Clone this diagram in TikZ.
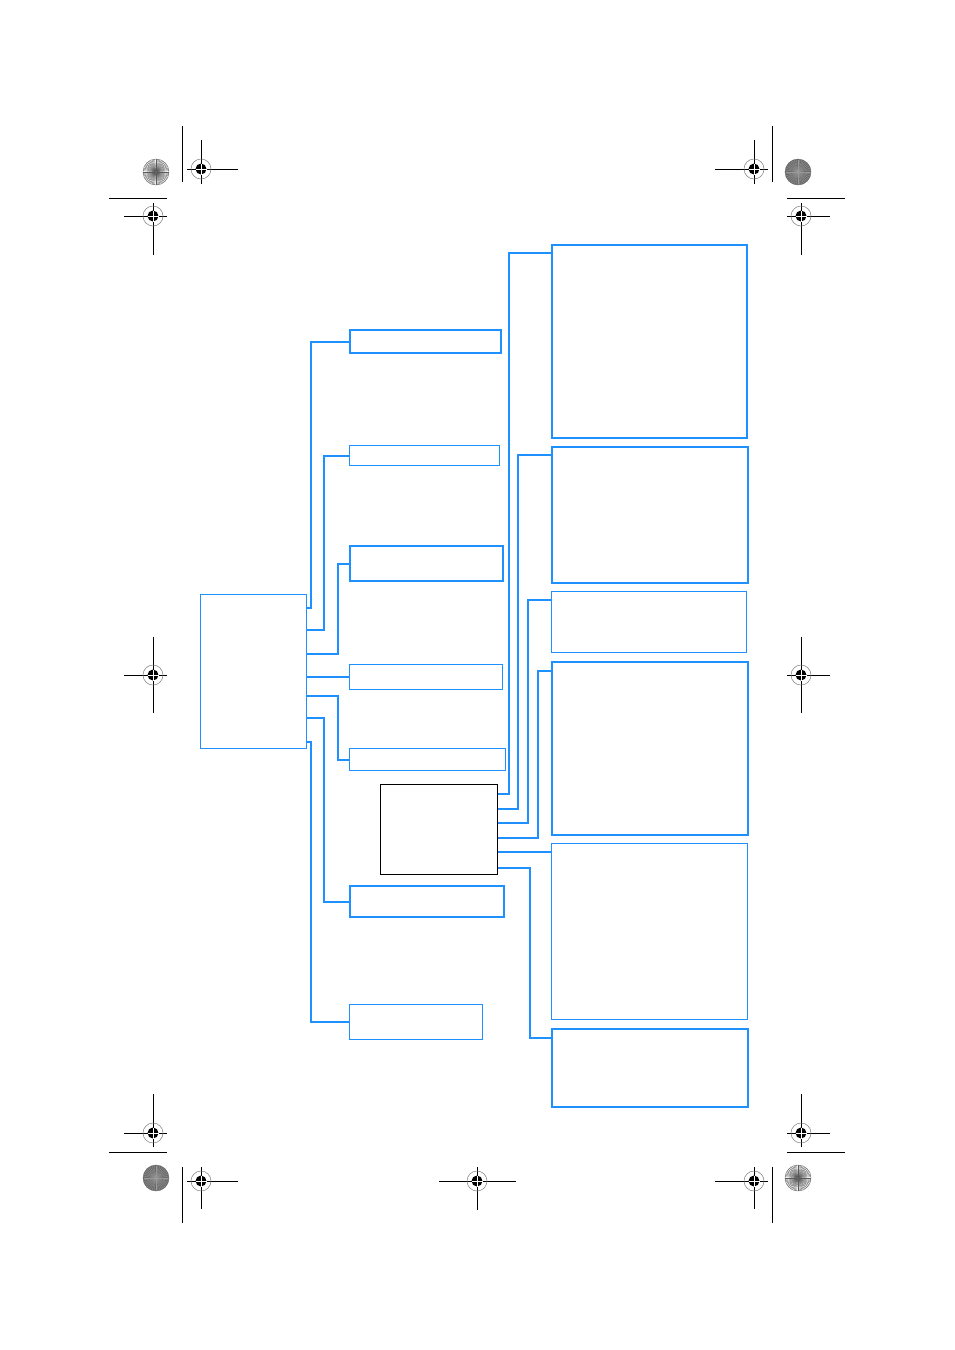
\documentclass[tikz,border=0pt]{standalone}
\definecolor{bl}{HTML}{1E90FF}
\tikzset{
  box/.style={draw=bl, line width=1.2pt, inner sep=0pt, anchor=north west, fill=white},
  boxthick/.style={box, line width=2pt},
  blk/.style={draw=black, line width=1.2pt, inner sep=0pt, anchor=north west, fill=white},
  conn/.style={draw=bl, line width=2pt},
  connthin/.style={draw=bl, line width=1.2pt},
  cropline/.style={draw=black, line width=0.9pt},
  regdisc/.pic={
    \draw[gray, line width=0.5pt] (0,0) circle (10);
    \fill[black] (0,0) circle (5.5);
    \draw[white, line width=0.7pt] (-5.5,0) -- (5.5,0) (0,-5.5) -- (0,5.5);
  },
  burstlight/.pic={
    \foreach \a in {0,6,...,354} \draw[black!65, line width=0.35pt] (0,0) -- (\a:13);
    \fill[black!60] (0,0) circle (1.5);
    \draw[black!55, line width=0.4pt] (0,0) circle (13);
  },
  burstdark/.pic={
    \fill[black!58] (0,0) circle (13);
    \foreach \a in {0,9,...,351} \draw[black!40, line width=0.3pt] (0,0) -- (\a:12.5);
    \draw[black!60, line width=0.4pt] (0,0) circle (13);
  }
}
\begin{document}
\begin{tikzpicture}[x=1pt, y=-1pt]
\path[use as bounding box, fill=white] (0,0) rectangle (954,1350);

% ---- blue tree ----
\node[box, minimum width=106pt, minimum height=154pt] (lb) at (200,594) {};
\node[boxthick, minimum width=151pt, minimum height=23pt] (b1) at (349,329) {};
\node[box, minimum width=150pt, minimum height=20pt] (b2) at (349,445) {};
\node[boxthick, minimum width=153pt, minimum height=35pt] (b3) at (349,545) {};
\node[box, minimum width=153pt, minimum height=25pt] (b4) at (349,664) {};
\node[box, minimum width=156pt, minimum height=22pt] (b5) at (349,748) {};
\node[boxthick, minimum width=154pt, minimum height=31pt] (b6) at (349,885) {};
\node[box, minimum width=133pt, minimum height=35pt] (b7) at (349,1004) {};

\node[blk, minimum width=117pt, minimum height=90pt] (bk) at (380,784) {};

\node[boxthick, minimum width=195pt, minimum height=193pt] (r1) at (551,244) {};
\node[boxthick, minimum width=196pt, minimum height=136pt] (r2) at (551,446) {};
\node[box, minimum width=195pt, minimum height=61pt] (r3) at (551,591) {};
\node[boxthick, minimum width=196pt, minimum height=173pt] (r4) at (551,661) {};
\node[box, minimum width=196pt, minimum height=176pt] (r5) at (551,843) {};
\node[boxthick, minimum width=196pt, minimum height=78pt] (r6) at (551,1028) {};

% connectors from left box
\draw[conn] ([yshift=-14pt]lb.north east) -| ([xshift=-38pt]b1.west) -- (b1.west);
\draw[conn] ([yshift=-36pt]lb.north east) -| ([xshift=-25pt]b2.west) -- (b2.west);
\draw[conn] ([yshift=-60pt]lb.north east) -| ([xshift=-11pt]b3.west) -- (b3.west);
\draw[conn] (b4.west) -- (b4.west -| lb.east);
\draw[conn] ([yshift=-102pt]lb.north east) -| ([xshift=-11pt]b5.west) -- (b5.west);
\draw[conn] ([yshift=-124pt]lb.north east) -| ([xshift=-25pt]b6.west) -- (b6.west);
\draw[conn] ([yshift=-148pt]lb.north east) -| ([xshift=-38pt]b7.west) -- (b7.west);

% connectors from black box
\draw[conn] ([yshift=-10pt]bk.north east) -| ([xshift=-42pt,yshift=-9pt]r1.north west) -- ([yshift=-9pt]r1.north west);
\draw[conn] ([yshift=-25pt]bk.north east) -| ([xshift=-33pt,yshift=-9pt]r2.north west) -- ([yshift=-9pt]r2.north west);
\draw[connthin] ([yshift=-39pt]bk.north east) -| ([xshift=-23pt,yshift=-9pt]r3.north west) -- ([yshift=-9pt]r3.north west);
\draw[connthin] ([yshift=-54pt]bk.north east) -| ([xshift=-13pt,yshift=-10pt]r4.north west) -- ([yshift=-10pt]r4.north west);
\draw[conn] ([yshift=-9pt]r5.north west) -- ([yshift=-9pt]r5.north west -| bk.east);
\draw[conn] ([yshift=-84pt]bk.north east) -| ([xshift=-21pt,yshift=-10pt]r6.north west) -- ([yshift=-10pt]r6.north west);

% ---- printer's marks ----
% crop lines
\draw[cropline] (182,126) -- (182,182);
\draw[cropline] (772,126) -- (772,182);
\draw[cropline] (109,198) -- (167,198);
\draw[cropline] (787,198) -- (845,198);
\draw[cropline] (109,1152) -- (167,1152);
\draw[cropline] (787,1152) -- (845,1152);
\draw[cropline] (182,1167) -- (182,1223);
\draw[cropline] (772,1167) -- (772,1223);

% registration targets
\draw[cropline] (187,169) -- (238,169) (201,140) -- (201,184);
\pic at (201,169) {regdisc};
\draw[cropline] (124,216) -- (167,216) (153,203) -- (153,255);
\pic at (153,216) {regdisc};
\draw[cropline] (715,169) -- (768,169) (754,140) -- (754,184);
\pic at (754,169) {regdisc};
\draw[cropline] (787,216) -- (830,216) (801,203) -- (801,255);
\pic at (801,216) {regdisc};
\draw[cropline] (124,675) -- (167,675) (153,637) -- (153,713);
\pic at (153,675) {regdisc};
\draw[cropline] (787,675) -- (830,675) (801,637) -- (801,713);
\pic at (801,675) {regdisc};
\draw[cropline] (124,1133) -- (167,1133) (153,1094) -- (153,1147);
\pic at (153,1133) {regdisc};
\draw[cropline] (187,1181) -- (238,1181) (201,1167) -- (201,1209);
\pic at (201,1181) {regdisc};
\draw[cropline] (439,1181) -- (516,1181) (477,1167) -- (477,1210);
\pic at (477,1181) {regdisc};
\draw[cropline] (787,1133) -- (830,1133) (801,1094) -- (801,1147);
\pic at (801,1133) {regdisc};
\draw[cropline] (715,1181) -- (768,1181) (754,1167) -- (754,1209);
\pic at (754,1181) {regdisc};

% star targets
\pic at (156,172) {burstlight};
\pic at (798,172) {burstdark};
\pic at (156,1178) {burstdark};
\pic at (798,1178) {burstlight};
\end{tikzpicture}
\end{document}
